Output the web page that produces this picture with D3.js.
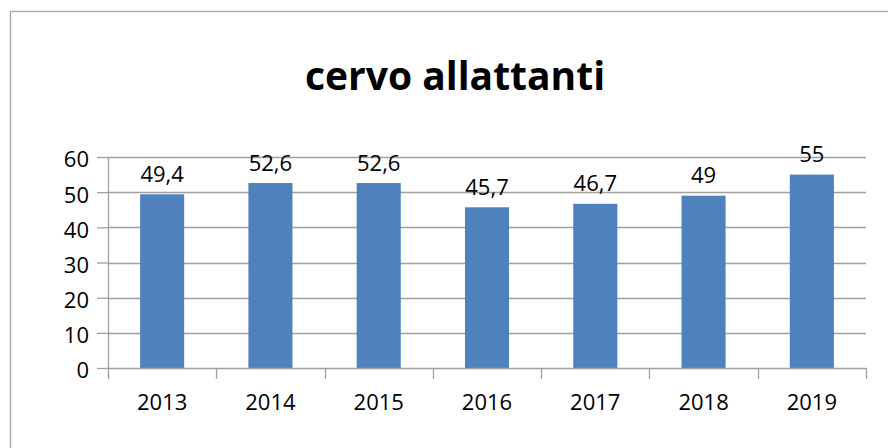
<!DOCTYPE html>
<html>
<head>
<meta charset="utf-8">
<script src="https://cdn.jsdelivr.net/npm/d3@7"></script>
<style>
  body { margin: 0; background: #fff; }
  svg { display: block; font-family: "Open Sans", sans-serif; }
</style>
</head>
<body>
<div id="chart"></div>
<script>
// data
const years = ["2013", "2014", "2015", "2016", "2017", "2018", "2019"];
const values = [49.4, 52.6, 52.6, 45.7, 46.7, 49, 55];
const labels = ["49,4", "52,6", "52,6", "45,7", "46,7", "49", "55"];
const yTicks = [0, 10, 20, 30, 40, 50, 60];
const title = "cervo allattanti";

const width = 888, height = 448;
const margin = { top: 157, bottom: 80, left: 108, right: 22 };
const gridColor = "#a0a0a0";
const barColor = "#4f81bd";

const svg = d3.select("#chart").append("svg")
  .attr("width", width)
  .attr("height", height);

// outer frame (runs off the right and bottom edges)
svg.append("rect")
  .attr("x", 10.5).attr("y", 11.5)
  .attr("width", 900).attr("height", 460)
  .attr("fill", "none")
  .attr("stroke", "#a6a6a6")
  .attr("stroke-width", 1.3);

// title
svg.append("text")
  .attr("x", 455)
  .attr("y", 90)
  .attr("text-anchor", "middle")
  .style("font-weight", "bold")
  .style("font-size", "39px")
  .text(title);

const x = d3.scaleBand()
  .domain(years)
  .range([margin.left, width - margin.right])
  .padding(0);

const y = d3.scaleLinear()
  .domain([0, 60])
  .range([height - margin.bottom, margin.top]);

const barW = x.bandwidth() * 0.407;

// gridlines
svg.append("g")
  .selectAll("line")
  .data(yTicks.filter((d) => d > 0))
  .enter()
  .append("line")
  .attr("x1", margin.left)
  .attr("x2", width - margin.right)
  .attr("y1", (d) => Math.round(y(d)) + 0.5)
  .attr("y2", (d) => Math.round(y(d)) + 0.5)
  .attr("stroke", gridColor)
  .attr("stroke-width", 1.3);

// y axis
const yAxis = d3.axisLeft(y).tickValues(yTicks).tickSize(11).tickPadding(8);
const yg = svg.append("g")
  .attr("transform", `translate(${margin.left},0)`)
  .call(yAxis);
yg.selectAll("path, line").attr("stroke", gridColor).attr("stroke-width", 1.3);
yg.select(".domain").attr("d", `M0.5,${y(60)}V${y(0)}`);
yg.selectAll("text")
  .attr("fill", "#000")
  .attr("dy", "0.45em")
  .style("font-size", "22px")
  .style("font-family", "Open Sans, sans-serif");

// bars
svg.append("g")
  .selectAll("rect")
  .data(values)
  .enter()
  .append("rect")
  .attr("x", (d, i) => x(years[i]) + (x.bandwidth() - barW) / 2)
  .attr("y", (d) => y(d))
  .attr("width", barW)
  .attr("height", (d) => y(0) - y(d))
  .attr("fill", barColor);

// x axis line and category ticks
const xg = svg.append("g");
xg.append("line")
  .attr("x1", margin.left)
  .attr("x2", width - margin.right)
  .attr("y1", y(0) + 0.5)
  .attr("y2", y(0) + 0.5)
  .attr("stroke", gridColor)
  .attr("stroke-width", 1.3);
const bounds = years.map((d) => x(d)).concat([x.range()[1]]);
xg.selectAll(".tick-mark")
  .data(bounds)
  .enter()
  .append("line")
  .attr("class", "tick-mark")
  .attr("x1", (d) => Math.round(d) + 0.5)
  .attr("x2", (d) => Math.round(d) + 0.5)
  .attr("y1", y(0))
  .attr("y2", y(0) + 11)
  .attr("stroke", gridColor)
  .attr("stroke-width", 1.3);
xg.selectAll(".year")
  .data(years)
  .enter()
  .append("text")
  .attr("class", "year")
  .attr("x", (d) => x(d) + x.bandwidth() / 2)
  .attr("y", 410)
  .attr("text-anchor", "middle")
  .style("font-size", "22px")
  .text((d) => d);

// value labels
svg.append("g")
  .selectAll("text")
  .data(values)
  .enter()
  .append("text")
  .attr("x", (d, i) => x(years[i]) + x.bandwidth() / 2)
  .attr("y", (d) => y(d) - 12.5)
  .attr("text-anchor", "middle")
  .style("font-size", "22px")
  .text((d, i) => labels[i]);
</script>
</body>
</html>
